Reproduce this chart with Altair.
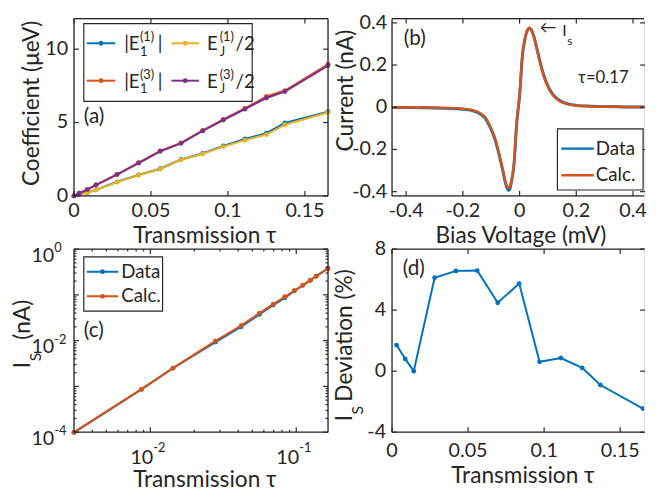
import altair as alt
import pandas as pd

FONT = "Lato"
AX = "#262626"
BLUE, ORANGE, YELLOW, PURPLE = "#0072BD", "#D95319", "#EDB120", "#7E2F8E"

# ---------------- data ----------------
tau = [0.003, 0.0087, 0.0143, 0.028, 0.042, 0.056, 0.0695, 0.0836, 0.097, 0.111, 0.125, 0.137, 0.165]
tau_a = [0.0, 0.0034, 0.0087, 0.0143, 0.028, 0.042, 0.056, 0.0695, 0.0836, 0.097, 0.111, 0.125, 0.137, 0.165]
E1_1 = [0, 0.11, 0.23, 0.41, 0.96, 1.43, 1.85, 2.48, 2.89, 3.40, 3.88, 4.28, 4.97, 5.74]
E1_3 = [0, 0.18, 0.44, 0.75, 1.47, 2.26, 3.06, 3.61, 4.46, 5.21, 5.96, 6.78, 7.18, 8.97]
EJ_1 = [0, 0.11, 0.22, 0.40, 0.94, 1.41, 1.83, 2.46, 2.86, 3.36, 3.80, 4.18, 4.85, 5.68]
EJ_3 = [0, 0.18, 0.43, 0.74, 1.45, 2.24, 3.04, 3.58, 4.43, 5.17, 5.91, 6.67, 7.11, 8.88]

bias = [-0.45, -0.4, -0.35, -0.3, -0.25, -0.2, -0.17, -0.14, -0.12, -0.11, -0.1, -0.09, -0.08,
        -0.07, -0.06, -0.05, -0.045, -0.04, -0.035, -0.03, -0.02, -0.01, 0.0, 0.01, 0.02, 0.03,
        0.034, 0.04, 0.05, 0.06, 0.07, 0.08, 0.09, 0.1, 0.11, 0.12, 0.14, 0.17, 0.2, 0.25, 0.3,
        0.35, 0.4, 0.45]
cur_calc = [-0.001, -0.001, -0.001, -0.002, -0.004, -0.007, -0.012, -0.027, -0.05, -0.072, -0.10,
            -0.134, -0.178, -0.232, -0.29, -0.352, -0.372, -0.383, -0.378, -0.355, -0.27, -0.07,
            0.06, 0.25, 0.335, 0.372, 0.377, 0.37, 0.335, 0.28, 0.222, 0.17, 0.128, 0.097, 0.072,
            0.053, 0.03, 0.014, 0.008, 0.004, 0.002, 0.002, 0.001, 0.001]
cur_data = [-0.001, -0.001, -0.002, -0.003, -0.005, -0.009, -0.015, -0.031, -0.055, -0.078, -0.106,
            -0.14, -0.184, -0.238, -0.296, -0.358, -0.38, -0.393, -0.39, -0.362, -0.275, -0.075,
            0.055, 0.245, 0.33, 0.37, 0.375, 0.37, 0.338, 0.285, 0.228, 0.176, 0.134, 0.101, 0.076,
            0.057, 0.033, 0.016, 0.009, 0.005, 0.003, 0.002, 0.001, 0.001]

is_data = [0.98e-4, 8.6e-4, 2.5e-3, 9.3e-3, 0.0201, 0.0375, 0.0598, 0.086, 0.122, 0.1615, 0.2085, 0.257, 0.381]
is_calc = [1.0e-4, 8.7e-4, 2.5e-3, 9.9e-3, 0.0214, 0.040, 0.0625, 0.091, 0.123, 0.163, 0.209, 0.255, 0.372]
deviation = [1.71, 0.80, 0.0, 6.12, 6.57, 6.59, 4.48, 5.74, 0.61, 0.86, 0.22, -0.91, -2.45]

a_xticks = [0, 0.05, 0.1, 0.15]
a_xlabels = ["0", "0.05", "0.1", "0.15"]
a_yticks = [0, 5, 10]
a_ylabels = ["0", "5", "10"]
b_xticks = [-0.4, -0.2, 0, 0.2, 0.4]
b_xlabels = ["-0.4", "-0.2", "0", "0.2", "0.4"]
b_yticks = [-0.4, -0.2, 0, 0.2, 0.4]
b_ylabels = ["-0.4", "-0.2", "0", "0.2", "0.4"]
c_xmajor = [0.01, 0.1]
c_xexp = ["-2", "-1"]
c_ymajor = [1e-4, 1e-2, 1.0]
c_yexp = ["-4", "-2", "0"]
c_ydecades = [1e-4, 1e-3, 1e-2, 1e-1, 1.0]
d_xticks = [0, 0.05, 0.1, 0.15]
d_xlabels = ["0", "0.05", "0.1", "0.15"]
d_yticks = [-4, 0, 4, 8]
d_ylabels = ["-4", "0", "4", "8"]

# ---------------- layout constants ----------------
W = 258      # full panels
WV = 256     # visible part of the right-hand panels (the original is cut at the edge)
H1 = 180
H2 = 186
TL = 5
LAB = 20     # tick label size
TIT = 23     # axis title size
one = pd.DataFrame({"k": [0]})


def txt(s, x, y, size=20, align="left", baseline="alphabetic", angle=0):
    kw = dict(text=s, font=FONT, fontSize=size, align=align, baseline=baseline, color=AX)
    if angle:
        kw["angle"] = angle
    return alt.Chart(one).mark_text(**kw).encode(x=alt.value(x), y=alt.value(y))


def hline(x1, x2, y, color=AX, sw=1.3):
    return alt.Chart(one).mark_rule(color=color, strokeWidth=sw).encode(
        x=alt.value(x1), x2=alt.value(x2), y=alt.value(y))


def vline(x, y1, y2, color=AX, sw=1.3):
    return alt.Chart(one).mark_rule(color=color, strokeWidth=sw).encode(
        x=alt.value(x), y=alt.value(y1), y2=alt.value(y2))


def dot(x, y, color, size=24):
    return alt.Chart(one).mark_point(filled=True, size=size, color=color, opacity=1).encode(
        x=alt.value(x), y=alt.value(y))


def box(x1, x2, y1, y2):
    return alt.Chart(one).mark_rect(fill="white", stroke=AX, strokeWidth=1.2).encode(
        x=alt.value(x1), x2=alt.value(x2), y=alt.value(y1), y2=alt.value(y2))


def frame(w, h, right=True):
    out = [hline(0, w, 0), hline(0, w, h), vline(0, 0, h)]
    if right:
        out.append(vline(w, 0, h))
    return out


def xticks(vals, scale, h, L=TL):
    df = pd.DataFrame({"t": vals})
    b = alt.Chart(df).mark_rule(color=AX, strokeWidth=1.2)
    return [b.encode(x=alt.X("t:Q", scale=scale, axis=None), y=alt.value(h - L), y2=alt.value(h)),
            b.encode(x=alt.X("t:Q", scale=scale, axis=None), y=alt.value(0), y2=alt.value(L))]


def yticks(vals, scale, w, L=TL):
    df = pd.DataFrame({"t": vals})
    b = alt.Chart(df).mark_rule(color=AX, strokeWidth=1.2)
    return [b.encode(y=alt.Y("t:Q", scale=scale, axis=None), x=alt.value(0), x2=alt.value(L)),
            b.encode(y=alt.Y("t:Q", scale=scale, axis=None), x=alt.value(w - L), x2=alt.value(w))]


def xlabels(vals, labels, scale, y):
    df = pd.DataFrame({"t": vals, "s": labels})
    return alt.Chart(df).mark_text(font=FONT, fontSize=LAB, color=AX, align="center", baseline="top").encode(
        x=alt.X("t:Q", scale=scale, axis=None), y=alt.value(y), text="s:N")


def ylabels(vals, labels, scale, x):
    df = pd.DataFrame({"t": vals, "s": labels})
    return alt.Chart(df).mark_text(font=FONT, fontSize=LAB, color=AX, align="right", baseline="middle").encode(
        y=alt.Y("t:Q", scale=scale, axis=None), x=alt.value(x), text="s:N")


def series(df, xc, yc, xs, ys, color, sw=2.0, pts=True, clip=False, interp=None):
    kw = dict(color=color, strokeWidth=sw)
    if pts:
        kw["point"] = alt.OverlayMarkDef(filled=True, size=24, color=color, opacity=1)
    if clip:
        kw["clip"] = True
    if interp:
        kw["interpolate"] = interp
    return alt.Chart(df).mark_line(**kw).encode(
        x=alt.X(f"{xc}:Q", scale=xs, axis=None), y=alt.Y(f"{yc}:Q", scale=ys, axis=None))


# ---------------- panel (a) ----------------
xa = alt.Scale(domain=[0, 0.165], nice=False, zero=False)
ya = alt.Scale(domain=[0, 12.08], nice=False, zero=False)
dfa = pd.DataFrame({"tau": tau_a, "E1_1": E1_1, "E1_3": E1_3, "EJ_1": EJ_1, "EJ_3": EJ_3})
a_layers = [
    series(dfa, "tau", "E1_1", xa, ya, BLUE),
    series(dfa, "tau", "E1_3", xa, ya, ORANGE),
    series(dfa, "tau", "EJ_1", xa, ya, YELLOW),
    series(dfa, "tau", "EJ_3", xa, ya, PURPLE),
]
a_layers += frame(W, H1) + xticks(a_xticks, xa, H1) + yticks(a_yticks, ya, W)
a_layers += [xlabels(a_xticks, a_xlabels, xa, H1 + 5), ylabels(a_yticks, a_ylabels, ya, -6)]
a_layers += [box(10, 181, 5, 84)]
for (r, sup, c1, c2) in [(25, "(1)", BLUE, YELLOW), (63, "(3)", ORANGE, PURPLE)]:
    a_layers += [hline(13, 42, r, c1, 2), dot(27.5, r, c1), hline(99, 127, r, c2, 2), dot(113, r, c2)]
    a_layers += [txt("|E", 51, r + 7, 19), txt(sup, 67, r - 2, 13), txt("1", 67, r + 13, 13),
                 txt("|", 85, r + 7, 19),
                 txt("E", 135, r + 7, 19), txt(sup, 148, r - 2, 13), txt("J", 148, r + 13, 13),
                 txt("/2", 164, r + 7, 19)]
a_layers += [txt("(a)", 10, 100, 21, baseline="middle"),
             txt("Coefficient (μeV)", -36, 86, TIT, align="center", angle=270),
             txt("Transmission τ", 133, H1 + 48, TIT, align="center")]
panel_a = alt.layer(*a_layers).properties(width=W, height=H1)

# ---------------- panel (b) ----------------
xb = alt.Scale(domain=[-0.45, 0.439], nice=False, zero=False)
yb = alt.Scale(domain=[-0.42, 0.42], nice=False, zero=False)
dfb = pd.DataFrame({"V": bias, "data": cur_data, "calc": cur_calc})
b_layers = [
    series(dfb, "V", "data", xb, yb, BLUE, sw=3, pts=False, clip=True, interp="monotone"),
    series(dfb, "V", "calc", xb, yb, ORANGE, sw=2.5, pts=False, clip=True, interp="monotone"),
]
b_layers += frame(WV, H1, right=False) + xticks(b_xticks, xb, H1) + yticks(b_yticks, yb, WV + 1)
b_layers += [xlabels(b_xticks, b_xlabels, xb, H1 + 5), ylabels(b_yticks, b_ylabels, yb, -5)]
b_layers += [box(168, 255, H1 - 68, H1 - 6),
             hline(172, 205, H1 - 48, BLUE, 2.5), hline(172, 205, H1 - 21, ORANGE, 2.5),
             txt("Data", 207, H1 - 48, 19, baseline="middle"),
             txt("Calc.", 207, H1 - 21, 19, baseline="middle"),
             txt("←", 150, 10, 17, baseline="middle"), txt("I", 173, 18, 16), txt("s", 178, 27, 12),
             txt("τ=0.17", 189, 65, 17),
             txt("(b)", 12, 21, 21, baseline="middle"),
             txt("Current (nA)", -40, 73, TIT, align="center", angle=270),
             txt("Bias Voltage (mV)", 131, H1 + 48, TIT, align="center")]
panel_b = alt.layer(*b_layers).properties(width=WV, height=H1)

# ---------------- panel (c) ----------------
xc = alt.Scale(type="log", domain=[0.003, 0.165], nice=False)
yc = alt.Scale(type="log", domain=[1e-4, 1.0], nice=False)
dfc = pd.DataFrame({"tau": tau, "data": is_data, "calc": is_calc})
c_xminor = [m * 10.0 ** e for e in (-3, -2) for m in range(2, 10) if 0.003 < m * 10.0 ** e < 0.165]
c_yminor = [m * 10.0 ** e for e in (-4, -3, -2, -1) for m in range(2, 10)]
c_layers = [
    series(dfc, "tau", "data", xc, yc, BLUE),
    series(dfc, "tau", "calc", xc, yc, ORANGE),
]
c_layers += frame(W, H2)
c_layers += xticks(c_xmajor, xc, H2) + xticks(c_xminor, xc, H2, L=2.5)
c_layers += yticks(c_ydecades, yc, W) + yticks(c_yminor, yc, W, L=2.5)
dfcx = pd.DataFrame({"t": c_xmajor, "e": c_xexp})
dfcy = pd.DataFrame({"t": c_ymajor, "e": c_yexp})
c_layers += [
    alt.Chart(dfcx).mark_text(text="10", font=FONT, fontSize=LAB, color=AX, align="right", dx=3)
    .encode(x=alt.X("t:Q", scale=xc, axis=None), y=alt.value(H2 + 26)),
    alt.Chart(dfcx).mark_text(font=FONT, fontSize=13, color=AX, align="left", dx=3)
    .encode(x=alt.X("t:Q", scale=xc, axis=None), y=alt.value(H2 + 16), text="e:N"),
    alt.Chart(dfcy).mark_text(text="10", font=FONT, fontSize=LAB, color=AX, align="right", dy=7)
    .encode(y=alt.Y("t:Q", scale=yc, axis=None), x=alt.value(-20)),
    alt.Chart(dfcy).mark_text(font=FONT, fontSize=13, color=AX, align="left", dy=-1)
    .encode(y=alt.Y("t:Q", scale=yc, axis=None), x=alt.value(-20), text="e:N"),
]
c_layers += [box(10, 90, 8, 63),
             hline(13, 45, 23, BLUE, 2), dot(29, 23, BLUE), txt("Data", 48, 23, 19, baseline="middle"),
             hline(13, 45, 48, ORANGE, 2), dot(29, 48, ORANGE), txt("Calc.", 48, 48, 19, baseline="middle"),
             txt("(c)", 10, 83, 21, baseline="middle"),
             txt("I", -45, 121, TIT, angle=270), txt("S", -33, 114, 16, angle=270),
             txt("(nA)", -45, 92, TIT, angle=270),
             txt("Transmission τ", 133, H2 + 56, TIT, align="center")]
panel_c = alt.layer(*c_layers).properties(width=W, height=H2)

# ---------------- panel (d) ----------------
xd = alt.Scale(domain=[0, 0.1657], nice=False, zero=False)
yd = alt.Scale(domain=[-4, 8], nice=False, zero=False)
dfd = pd.DataFrame({"tau": tau, "dev": deviation})
d_layers = [series(dfd, "tau", "dev", xd, yd, BLUE, clip=True)]
d_layers += frame(WV, H2, right=False) + xticks(d_xticks, xd, H2) + yticks(d_yticks, yd, WV + 1)
d_layers += [xlabels(d_xticks, d_xlabels, xd, H2 + 9), ylabels(d_yticks, d_ylabels, yd, -6)]
d_layers += [txt("(d)", 11, 20, 21, baseline="middle"),
             txt("I", -41, 175, TIT, angle=270), txt("S", -29, 168, 16, angle=270),
             txt("Deviation (%)", -41, 155, TIT, angle=270),
             txt("Transmission τ", 133, H2 + 52, TIT, align="center")]
panel_d = alt.layer(*d_layers).properties(width=WV, height=H2)

chart = alt.concat(panel_a, panel_b, panel_c, panel_d, columns=2,
                   spacing={"row": 54, "column": 65}, bounds="flush").properties(
    padding={"left": 3, "top": 0, "right": 0, "bottom": 0}
).configure_view(strokeWidth=0).configure(background="white")

chart.save("out.html", embed_options={"renderer": "svg", "actions": False})
